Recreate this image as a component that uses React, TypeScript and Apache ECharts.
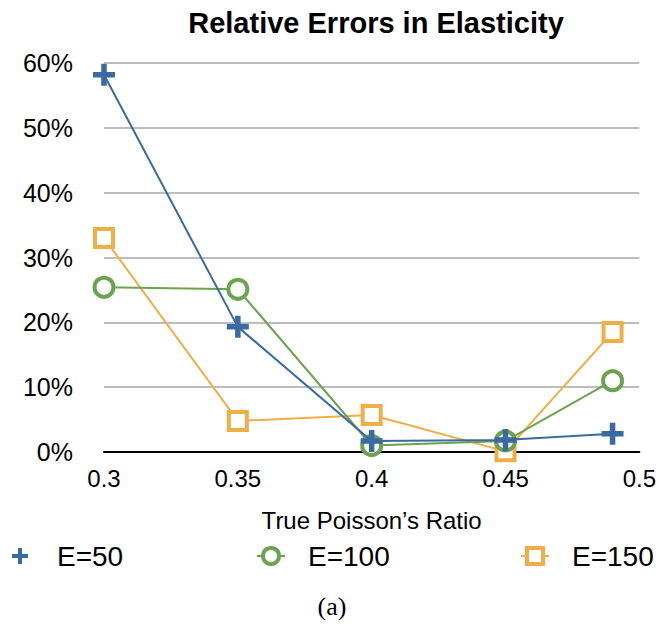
import React, { useEffect, useRef } from "react";
import * as echarts from "echarts";

const poissonRatios = [0.3, 0.35, 0.4, 0.45, 0.49];
const e50 = [58.2, 19.3, 1.7, 1.85, 2.8];
const e100 = [25.4, 25.1, 1.0, 1.7, 11.0];
const e150 = [33.0, 4.8, 5.7, 0.1, 18.5];
const seriesNames = ["E=50", "E=100", "E=150"];
const xTicks = ["0.3", "0.35", "0.4", "0.45", "0.5"];

const BLUE = "#3A6AA3";
const GREEN = "#6BA34E";
const ORANGE = "#F0AE46";
const PLUS = "path://M7.5,0H12.5V7.5H20V12.5H12.5V20H7.5V12.5H0V7.5H7.5Z";
const FONT = "'Liberation Sans', Arial, Helvetica, sans-serif";

export default function App() {
  const ref = useRef<HTMLDivElement>(null);
  useEffect(() => {
    if (!ref.current) return;
    const chart = echarts.init(ref.current, null, { renderer: "svg" });
    const pts = (vals: number[]) => poissonRatios.map((x, i) => [x, vals[i]]);
    const legendBase = {
      top: 542,
      padding: 0,
      itemWidth: 28,
      itemHeight: 20,
      textStyle: { fontSize: 28, color: "#000", fontFamily: FONT, padding: [0, 0, 0, 18] },
    };
    chart.setOption({
      animation: false,
      title: {
        text: "Relative Errors in Elasticity",
        left: 371,
        textAlign: "center",
        top: 3,
        textStyle: { fontSize: 29, fontWeight: "bold", color: "#000", fontFamily: FONT },
      },
      grid: { left: 104, right: 19, top: 63, bottom: 179, containLabel: false },
      xAxis: {
        type: "value",
        min: 0.3,
        max: 0.5,
        interval: 0.05,
        name: "True Poisson\u2019s Ratio",
        nameLocation: "middle",
        nameGap: 56,
        nameTextStyle: { fontSize: 24, color: "#000", fontFamily: FONT, verticalAlign: "top" },
        axisLine: { show: true, lineStyle: { color: "#000", width: 2 } },
        axisTick: { show: false },
        splitLine: { show: false },
        axisLabel: {
          fontSize: 24,
          color: "#000",
          fontFamily: FONT,
          margin: 14,
          formatter: (v: number) => {
            const idx = Math.round((v - 0.3) / 0.05);
            return xTicks[idx] ?? String(v);
          },
        },
      },
      yAxis: {
        type: "value",
        min: 0,
        max: 60,
        interval: 10,
        axisLine: { show: false },
        axisTick: { show: false },
        splitLine: { show: true, lineStyle: { color: "#BDBDBD", width: 2 } },
        axisLabel: {
          fontSize: 25,
          color: "#000",
          fontFamily: FONT,
          margin: 31,
          formatter: (v: number) => v + "%",
        },
      },
      legend: [
        {
          ...legendBase,
          left: 5,
          data: [{ name: seriesNames[0], lineStyle: { opacity: 0 } }],
        },
        {
          ...legendBase,
          left: 256,
          data: [{ name: seriesNames[1], itemStyle: { borderWidth: 4 } }],
        },
        {
          ...legendBase,
          left: 520,
          data: [{ name: seriesNames[2], itemStyle: { borderWidth: 4 } }],
        },
      ],
      series: [
        {
          name: seriesNames[0],
          type: "line",
          data: pts(e50),
          symbol: PLUS,
          symbolSize: 22,
          lineStyle: { color: BLUE, width: 2 },
          itemStyle: { color: BLUE, borderWidth: 0 },
          z: 5,
        },
        {
          name: seriesNames[1],
          type: "line",
          data: pts(e100),
          symbol: "circle",
          symbolSize: 19,
          lineStyle: { color: GREEN, width: 2 },
          itemStyle: { color: "#fff", borderColor: GREEN, borderWidth: 4 },
          z: 3,
        },
        {
          name: seriesNames[2],
          type: "line",
          data: pts(e150),
          symbol: "rect",
          symbolSize: 18,
          lineStyle: { color: ORANGE, width: 2 },
          itemStyle: { color: "#fff", borderColor: ORANGE, borderWidth: 4 },
          z: 2,
        },
      ],
      graphic: [
        {
          type: "text",
          x: 332,
          y: 593,
          style: {
            text: "(a)",
            font: "26px 'Liberation Serif', 'DejaVu Serif', serif",
            fill: "#000",
            textAlign: "center",
          },
        },
      ],
    });
    return () => chart.dispose();
  }, []);
  return <div ref={ref} style={{ width: 659, height: 631, position: "absolute", left: 0, top: 0 }} />;
}
